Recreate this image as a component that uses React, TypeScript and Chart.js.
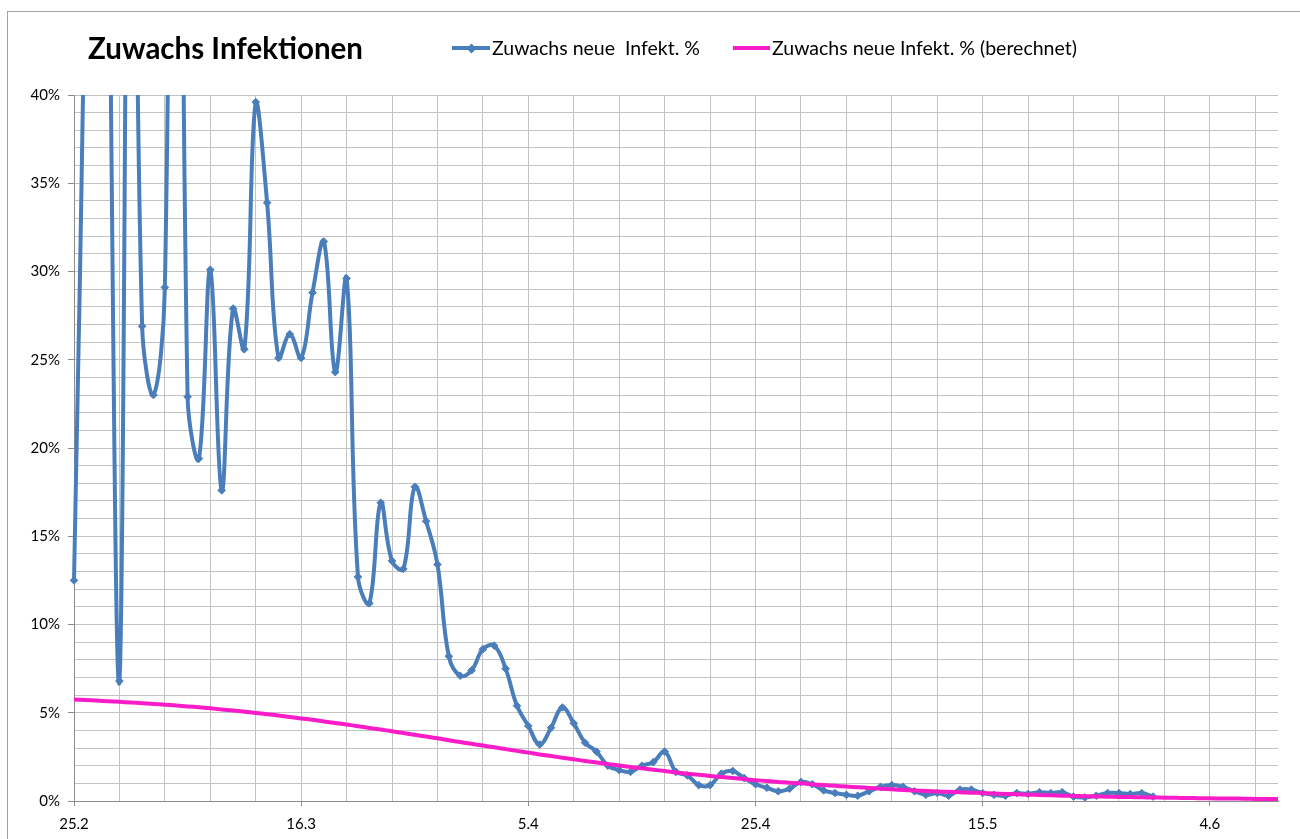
import React, { useEffect, useRef } from 'react';
import { Chart, registerables } from 'chart.js';

Chart.register(...registerables);

const dates: string[] = [
  '25.2', '26.2', '27.2', '28.2', '29.2',
  '1.3', '2.3', '3.3', '4.3', '5.3', '6.3', '7.3', '8.3', '9.3', '10.3', '11.3', '12.3', '13.3', '14.3', '15.3', '16.3',
  '17.3', '18.3', '19.3', '20.3', '21.3', '22.3', '23.3', '24.3', '25.3', '26.3', '27.3', '28.3', '29.3', '30.3', '31.3',
  '1.4', '2.4', '3.4', '4.4', '5.4', '6.4', '7.4', '8.4', '9.4', '10.4', '11.4', '12.4', '13.4', '14.4', '15.4',
  '16.4', '17.4', '18.4', '19.4', '20.4', '21.4', '22.4', '23.4', '24.4', '25.4', '26.4', '27.4', '28.4', '29.4', '30.4',
  '1.5', '2.5', '3.5', '4.5', '5.5', '6.5', '7.5', '8.5', '9.5', '10.5', '11.5', '12.5', '13.5', '14.5', '15.5',
  '16.5', '17.5', '18.5', '19.5', '20.5', '21.5', '22.5', '23.5', '24.5', '25.5', '26.5', '27.5', '28.5', '29.5', '30.5', '31.5',
  '1.6', '2.6', '3.6', '4.6', '5.6', '6.6', '7.6', '8.6', '9.6', '10.6',
];

// Zuwachs neue Infekt. % (observed)
const growthActual: number[] = [
  12.5, 48, 110, 55, 6.8, 70, 26.9, 23.0, 29.1, 90,
  22.9, 19.4, 30.1, 17.6, 27.9, 25.6, 39.6, 33.9, 25.1, 26.45,
  25.1, 28.8, 31.7, 24.3, 29.6, 12.7, 11.2, 16.9, 13.6, 13.15,
  17.8, 15.85, 13.4, 8.2, 7.1, 7.4, 8.6, 8.8, 7.5, 5.4,
  4.25, 3.2, 4.15, 5.3, 4.4, 3.3, 2.8, 2.0, 1.75, 1.65,
  2.0, 2.2, 2.8, 1.65, 1.45, 0.9, 0.9, 1.55, 1.7, 1.3,
  0.95, 0.75, 0.55, 0.7, 1.08, 0.95, 0.6, 0.45, 0.35, 0.3,
  0.55, 0.8, 0.9, 0.8, 0.55, 0.35, 0.45, 0.3, 0.65, 0.65,
  0.45, 0.35, 0.3, 0.45, 0.4, 0.5, 0.45, 0.5, 0.25, 0.2,
  0.3, 0.45, 0.45, 0.4, 0.45, 0.25,
];

// Zuwachs neue Infekt. % (berechnet)
const growthModel: number[] = [
  5.75, 5.72, 5.69, 5.65, 5.62, 5.58, 5.54, 5.50, 5.46, 5.41,
  5.36, 5.31, 5.25, 5.19, 5.13, 5.06, 4.99, 4.92, 4.84, 4.76,
  4.68, 4.60, 4.51, 4.42, 4.33, 4.24, 4.14, 4.05, 3.95, 3.85,
  3.75, 3.65, 3.55, 3.44, 3.34, 3.24, 3.14, 3.04, 2.94, 2.84,
  2.74, 2.64, 2.55, 2.45, 2.36, 2.27, 2.18, 2.09, 2.01, 1.93,
  1.85, 1.77, 1.70, 1.62, 1.55, 1.49, 1.42, 1.36, 1.30, 1.24,
  1.18, 1.13, 1.08, 1.03, 1.00, 0.95, 0.90, 0.86, 0.82, 0.78,
  0.74, 0.70, 0.66, 0.63, 0.60, 0.57, 0.54, 0.52, 0.49, 0.47,
  0.45, 0.42, 0.40, 0.38, 0.36, 0.34, 0.32, 0.30, 0.29, 0.27,
  0.26, 0.24, 0.23, 0.22, 0.21, 0.20, 0.19, 0.18, 0.17, 0.16,
  0.15, 0.14, 0.14, 0.13, 0.12, 0.12, 0.11,
];

const xTickLabels: string[] = ['25.2', '16.3', '5.4', '25.4', '15.5', '4.6'];
const yTickLabels: number[] = [0, 5, 10, 15, 20, 25, 30, 35, 40];

const seriesNames = ['Zuwachs neue  Infekt. %', 'Zuwachs neue Infekt. % (berechnet)'];
const chartTitle = 'Zuwachs Infektionen';

const BLUE = '#4A7EBB';
const PINK = '#FA1CC8';
const GRID = '#C2C2C2';
const AXIS = '#8C8C8C';
const FONT = 'Lato, "Open Sans", sans-serif';

export default function App() {
  const ref = useRef<HTMLCanvasElement>(null);

  useEffect(() => {
    if (!ref.current) return;
    const chart = new Chart(ref.current, {
      type: 'line',
      data: {
        labels: dates,
        datasets: [
          {
            label: seriesNames[0],
            data: growthActual,
            borderColor: BLUE,
            backgroundColor: BLUE,
            borderWidth: 4,
            tension: 0.4,
            pointStyle: 'rectRot',
            pointRadius: 3.8,
            pointBorderWidth: 1,
            pointBackgroundColor: BLUE,
            pointBorderColor: BLUE,
            order: 1,
          },
          {
            label: seriesNames[1],
            data: growthModel,
            borderColor: PINK,
            backgroundColor: PINK,
            borderWidth: 4,
            tension: 0.4,
            pointRadius: 0,
            order: 0,
          },
        ],
      },
      options: {
        responsive: false,
        animation: false,
        events: [],
        layout: { padding: { top: 95, right: 22, left: 0, bottom: 0 } },
        plugins: {
          legend: { display: false },
          title: { display: false },
          tooltip: { enabled: false },
        },
        scales: {
          x: {
            type: 'category',
            offset: false,
            grid: {
              color: (ctx: any) => (ctx.index % 4 === 0 ? GRID : 'rgba(0,0,0,0)'),
              tickColor: (ctx: any) => (xTickLabels.includes(dates[ctx.index]) ? AXIS : 'rgba(0,0,0,0)'),
              tickLength: 5,
              lineWidth: 1,
            },
            border: { color: AXIS, width: 1 },
            ticks: {
              autoSkip: false,
              maxRotation: 0,
              minRotation: 0,
              padding: 9,
              color: '#000',
              font: { family: FONT, size: 15 },
              callback: (_v: any, i: number) => (xTickLabels.includes(dates[i]) ? dates[i] : ''),
            },
            afterFit: (s: any) => {
              s.height = 38;
            },
          },
          y: {
            min: 0,
            max: 40,
            grid: {
              color: GRID,
              tickColor: (ctx: any) => (ctx.tick && yTickLabels.includes(ctx.tick.value) ? AXIS : 'rgba(0,0,0,0)'),
              tickLength: 6,
              lineWidth: 1,
            },
            border: { color: AXIS, width: 1 },
            ticks: {
              stepSize: 1,
              autoSkip: false,
              padding: 8,
              color: '#000',
              font: { family: FONT, size: 15 },
              callback: (v: any) => (yTickLabels.includes(Number(v)) ? `${v}%` : ''),
            },
            afterFit: (s: any) => {
              s.width = 74;
            },
          },
        },
      },
    });
    return () => chart.destroy();
  }, []);

  return (
    <div
      style={{
        position: 'fixed',
        left: 0,
        top: 0,
        width: 1300,
        height: 839,
        overflow: 'hidden',
        background: '#fff',
      }}
    >
      <div
        style={{
          position: 'absolute',
          left: 7,
          top: 11,
          width: 1320,
          height: 900,
          border: '1px solid #A0A0A0',
        }}
      />
      <canvas ref={ref} width={1300} height={839} style={{ position: 'absolute', left: 0, top: 0 }} />
      <div
        style={{
          position: 'absolute',
          left: 88,
          top: 30,
          lineHeight: '36px',
          fontFamily: FONT,
          fontWeight: 700,
          fontSize: 29.5,
          color: '#000',
          whiteSpace: 'nowrap',
        }}
      >
        {chartTitle}
      </div>
      <div style={{ position: 'absolute', left: 452, top: 46, width: 38, height: 4, background: BLUE }} />
      <div
        style={{
          position: 'absolute',
          left: 467.5,
          top: 44.5,
          width: 7,
          height: 7,
          background: BLUE,
          transform: 'rotate(45deg)',
        }}
      />
      <div
        style={{
          position: 'absolute',
          left: 492,
          top: 37,
          lineHeight: '22px',
          fontFamily: FONT,
          fontSize: 19.5,
          color: '#000',
          whiteSpace: 'pre',
        }}
      >
        {seriesNames[0]}
      </div>
      <div style={{ position: 'absolute', left: 733, top: 46, width: 37, height: 4, background: PINK }} />
      <div
        style={{
          position: 'absolute',
          left: 772,
          top: 37,
          lineHeight: '22px',
          fontFamily: FONT,
          fontSize: 19.5,
          color: '#000',
          whiteSpace: 'pre',
        }}
      >
        {seriesNames[1]}
      </div>
    </div>
  );
}
